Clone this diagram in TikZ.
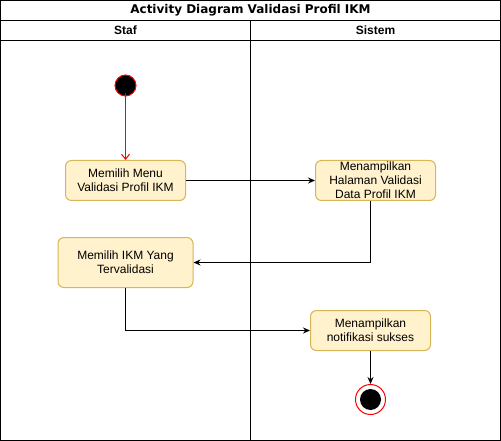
\documentclass[tikz,border=0pt]{standalone}
\usepackage{fontspec}
\setmainfont{Liberation Sans}
\newfontfamily\titlefont{DejaVu Sans}
\usepackage{xcolor}
\usetikzlibrary{arrows,arrows.meta}
\usetikzlibrary{calc}
\usetikzlibrary{positioning}
\definecolor{actfill}{HTML}{FFF2CC}
\definecolor{actdraw}{HTML}{D6B656}

\begin{document}
\begin{tikzpicture}[x=1pt,y=-1pt,->,>={Stealth[length=7pt,width=6pt]},line width=1pt,node distance=2cm]
 \tikzstyle{every node}=[font=\fontsize{12}{14}\selectfont, text=black]
 \tikzstyle{activity}=[rectangle, rounded corners=6pt, fill=actfill, draw=actdraw, align=center, inner sep=0pt, minimum width=120pt, minimum height=40pt]
 \tikzstyle{startstate}=[circle, fill=black, draw=red, minimum size=21pt, inner sep=0pt]
 \tikzstyle{endstate}=[circle, fill=white, draw=red, minimum size=30pt, inner sep=0pt]
 \tikzstyle{lanehead}=[font=\bfseries\fontsize{12}{14}\selectfont]
 \useasboundingbox (0,0) rectangle (501,441);
 % swimlanes
 \draw[-] (0.5,0.5) rectangle (500.5,440.5);
 \draw[-] (0.5,20.5) -- (500.5,20.5);
 \draw[-] (0.5,40.5) -- (500.5,40.5);
 \draw[-] (250.5,20.5) -- (250.5,440.5);
 \node[font=\titlefont\bfseries\fontsize{12}{14}\selectfont] (title) at (250.5,10.5) {Activity Diagram Validasi Profil IKM};
 \node[lanehead] (staf) at (125.5,30.5) {Staf};
 \node[lanehead] (sistem) at (375.5,30.5) {Sistem};
 % activities
 \node[startstate] (start) at (125.5,85.5) {};
 \node[activity] (menu) at (125.5,180.5) {Memilih Menu\\Validasi Profil IKM};
 \node[activity] (halaman) at (375.5,180.5) {Menampilkan\\Halaman Validasi\\Data Profil IKM};
 \node[activity, minimum width=135pt, minimum height=50pt] (pilih) at (125.5,262.5) {Memilih IKM Yang\\Tervalidasi};
 \node[activity] (notif) at (370.5,330.5) {Menampilkan\\notifikasi sukses};
 \node[endstate] (final) at (370.5,399.5) {};
 \node[circle, fill=black, minimum size=21pt, inner sep=0pt] (finaldot) at (final) {};
 \draw[red, -{Straight Barb[length=5pt,width=8pt]}] ([yshift=3pt]start.south) -- (menu.north);
 \path
 (menu) edge (halaman)
 (notif) edge (final);
 \draw (halaman.south -| final) |- (pilih.east);
 \draw (pilih.south) |- (notif.west);
\end{tikzpicture}
\end{document}
